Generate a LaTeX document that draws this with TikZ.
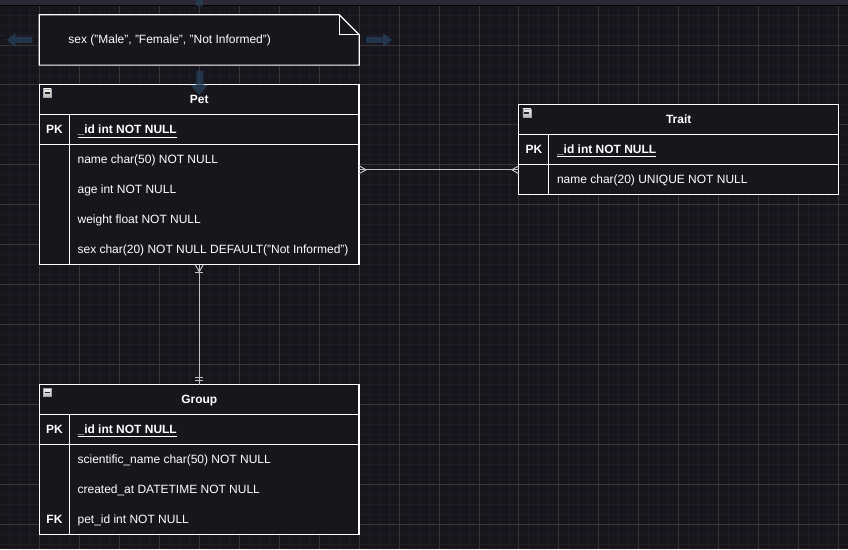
\documentclass[tikz,border=0pt]{standalone}
\usepackage{fontspec}
\setmainfont{Liberation Sans}
\usepackage{tikz}
\usetikzlibrary{positioning}

\definecolor{canvas}{HTML}{18161D}
\definecolor{boxbg}{HTML}{18151C}
\definecolor{minorgrid}{HTML}{1F1D25}
\definecolor{majorgrid}{HTML}{37343C}
\definecolor{topband}{HTML}{2D2836}
\definecolor{hoverarrow}{HTML}{25415A}
\definecolor{relline}{HTML}{C4C4C4}

\begin{document}
\begin{tikzpicture}[x=1pt, y=-1pt,
  tbl/.style={draw=white, line width=1.2pt, fill=boxbg, minimum width=320pt,
    minimum height=30pt, inner sep=0pt, outer sep=0pt},
  tblhead/.style={tbl, text=white, text height=10pt, text depth=2pt,
    font=\fontsize{12}{14}\selectfont\bfseries},
  fld/.style={anchor=west, inner sep=0pt, text=white, text height=10pt, text depth=2pt,
    font=\fontsize{12}{14}\selectfont},
  keyfld/.style={fld, font=\fontsize{12}{14}\selectfont\bfseries},
  keycol/.style={anchor=center, inner sep=0pt, text=white, text height=10pt, text depth=2pt,
    font=\fontsize{12}{14}\selectfont\bfseries},
  rel/.style={draw=relline, line width=1pt},
  hover/.style={fill=hoverarrow, opacity=0.75},
  collapse/.pic={
    \draw[draw=gray!70, top color=gray!10, bottom color=gray!55] (-4,-4) rectangle (4,4);
    \draw[line width=1.6pt, black!85] (-2.5,0) -- (2.5,0);}]

% canvas and grid
\fill[canvas] (0,0) rectangle (848,550);
\foreach \x in {9,19,...,848} \draw[minorgrid, line width=0.8pt] (\x,5) -- (\x,550);
\foreach \y in {15,25,...,550} \draw[minorgrid, line width=0.8pt] (0,\y) -- (848,\y);
\foreach \x in {39,79,...,848} \draw[majorgrid, line width=0.8pt] (\x,5) -- (\x,550);
\foreach \y in {45,85,...,550} \draw[majorgrid, line width=0.8pt] (0,\y) -- (848,\y);
\fill[topband] (0,0) rectangle (848,5);
\draw[black, line width=1pt] (0,5.5) -- (848,5.5);

% note
\node[minimum width=320pt, minimum height=50pt, inner sep=0pt] (note) at (199,40) {};
\draw[draw=white, line width=1.2pt, fill=boxbg] (note.north west) -- ([xshift=-20pt]note.north east)
  -- ([yshift=-20pt]note.north east) -- (note.south east) -- (note.south west) -- cycle;
\draw[white, line width=0.8pt] ([xshift=-20pt]note.north east) -- ([xshift=-20pt,yshift=-20pt]note.north east)
  -- ([yshift=-20pt]note.north east);
\node[fld] (notetxt) at ([xshift=29pt]note.west) {sex ("Male", "Female", "Not Informed")};

% Pet
\node[tblhead] (pethead) at (199,100) {Pet};
\node[tbl, below=0pt of pethead] (petpk) {};
\node[tbl, minimum height=120pt, below=0pt of petpk] (petbody) {};
\draw[white, line width=1.2pt] ([xshift=30pt]petpk.north west) -- ([xshift=30pt]petbody.south west);
\pic at ([xshift=8pt,yshift=-8pt]pethead.north west) {collapse};
\node[keycol] (petpkkey) at ([xshift=15pt]petpk.west) {PK};
\node[keyfld] (petid) at ([xshift=38pt]petpk.west) {\underline{\_id int NOT NULL}};
\foreach \t [count=\i] in {{name char(50) NOT NULL}, {age int NOT NULL}, {weight float NOT NULL},
    {sex char(20) NOT NULL DEFAULT("Not Informed")}}
  \node[fld] (petf\i) at ([xshift=38pt,yshift={15pt-30pt*\i}]petpk.south west) {\t};

% Trait
\node[tblhead] (traithead) at (679,120) {Trait};
\node[tbl, below=0pt of traithead] (traitpk) {};
\node[tbl, below=0pt of traitpk] (traitbody) {};
\draw[white, line width=1.2pt] ([xshift=30pt]traitpk.north west) -- ([xshift=30pt]traitbody.south west);
\pic at ([xshift=8pt,yshift=-8pt]traithead.north west) {collapse};
\node[keycol] (traitpkkey) at ([xshift=15pt]traitpk.west) {PK};
\node[keyfld] (traitid) at ([xshift=38pt]traitpk.west) {\underline{\_id int NOT NULL}};
\node[fld] (traitf1) at ([xshift=38pt]traitbody.west) {name char(20) UNIQUE NOT NULL};

% Group
\node[tblhead] (grphead) at (199,400) {Group};
\node[tbl, below=0pt of grphead] (grppk) {};
\node[tbl, minimum height=90pt, below=0pt of grppk] (grpbody) {};
\draw[white, line width=1.2pt] ([xshift=30pt]grppk.north west) -- ([xshift=30pt]grpbody.south west);
\pic at ([xshift=8pt,yshift=-8pt]grphead.north west) {collapse};
\node[keycol] (grppkkey) at ([xshift=15pt]grppk.west) {PK};
\node[keyfld] (grpid) at ([xshift=38pt]grppk.west) {\underline{\_id int NOT NULL}};
\foreach \t [count=\i] in {{scientific\_name char(50) NOT NULL}, {created\_at DATETIME NOT NULL},
    {pet\_id int NOT NULL}}
  \node[fld] (grpf\i) at ([xshift=38pt,yshift={15pt-30pt*\i}]grppk.south west) {\t};
\node[keycol] (grpfkkey) at ([xshift=15pt,yshift=15pt]grpbody.south west) {FK};

% Pet -- Trait (many to many)
\draw[rel] ([yshift=-25pt]petbody.north east) coordinate (pt1) -- (pt1 -| traitbody.west) coordinate (pt2);
\draw[rel] ([yshift=4pt]pt1) -- ([xshift=7pt]pt1) -- ([yshift=-4pt]pt1);
\draw[rel] ([yshift=4pt]pt2) -- ([xshift=-7pt]pt2) -- ([yshift=-4pt]pt2);

% Pet -- Group (one to many)
\draw[rel] (petbody.south) coordinate (pg1) -- (grphead.north) coordinate (pg2);
\draw[rel] ([xshift=-4pt]pg1) -- ([yshift=-7pt]pg1) -- ([xshift=4pt]pg1);
\draw[rel] ([xshift=-4pt,yshift=-8pt]pg1) -- ([xshift=4pt,yshift=-8pt]pg1);
\draw[rel] ([xshift=-4pt,yshift=7pt]pg2) -- ([xshift=4pt,yshift=7pt]pg2);
\draw[rel] ([xshift=-4pt,yshift=4pt]pg2) -- ([xshift=4pt,yshift=4pt]pg2);

% hover arrows round the note
\fill[hover] (6,40) -- (15,33) -- (15,37) -- (32,37) -- (32,43) -- (15,43) -- (15,47) -- cycle;
\fill[hover] (392,40) -- (383,33) -- (383,37) -- (366,37) -- (366,43) -- (383,43) -- (383,47) -- cycle;
\fill[hover] (199,95) -- (190,85) -- (196,85) -- (196,71) -- (203,71) -- (203,85) -- (208,85) -- cycle;
\fill[hover] (196,0) rectangle (203,6);
\end{tikzpicture}
\end{document}
